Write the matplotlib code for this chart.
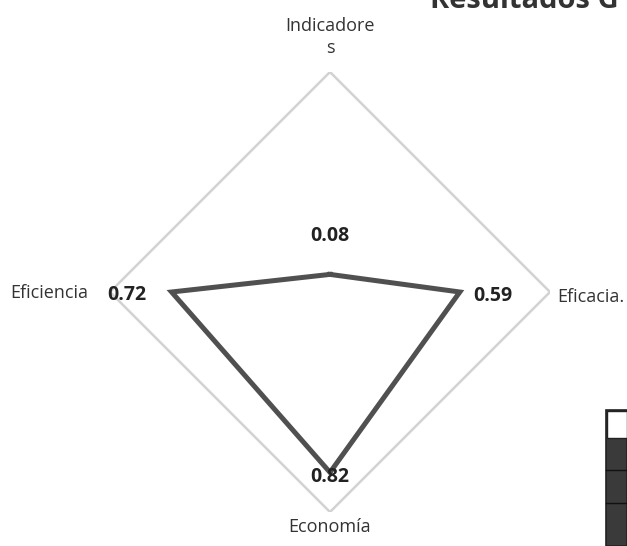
import numpy as np
import matplotlib
matplotlib.use("Agg")
import matplotlib.pyplot as plt
from matplotlib.patches import Rectangle

categories = ["Indicadore\ns", "Eficacia.", "Economía", "Eficiencia"]
values = [0.08, 0.59, 0.82, 0.72]
value_labels = ["0.08", "0.59", "0.82", "0.72"]
rmax = 1.0

plt.rcParams['font.family'] = ['Open Sans', 'DejaVu Sans']

fig = plt.figure(figsize=(6.27, 5.46), dpi=100)
fig.patch.set_facecolor("white")

cx, cy, R = 330, 292, 220
W, H = 627, 546
ax = fig.add_axes([(cx - R) / W, (H - cy - R) / H, 2 * R / W, 2 * R / H], projection="polar")
ax.set_theta_offset(np.pi / 2)
ax.set_theta_direction(-1)
ax.set_ylim(0, rmax)
ax.grid(False)
ax.spines["polar"].set_visible(False)
ax.set_xticks([])
ax.set_yticks([])
ax.patch.set_alpha(0)

n = len(categories)
theta = np.arange(n) * 2 * np.pi / n
tc = np.append(theta, theta[0])

# outer ring
ax.plot(tc, [rmax] * (n + 1), color="#d2d2d2", lw=1.8, zorder=2)

vc = np.append(values, values[0])
ax.plot(tc, vc, color="#505050", lw=3.6, zorder=3, solid_joinstyle="miter")

# data labels
offsets = [(0, 28), (24, -3), (0, -3), (-32, -2)]
for t, v, lab, off in zip(theta, values, value_labels, offsets):
    ax.annotate(lab, xy=(t, v), xytext=off, textcoords="offset points",
                ha="center", va="center", fontsize=14, fontweight="bold", color="#222222")

# category labels
fs = 13
fig.text(330 / W, 1 - 37 / H, categories[0], ha="center", va="center", fontsize=fs,
         color="#333333", linespacing=1.3)
fig.text(557 / W, 1 - 297 / H, categories[1], ha="left", va="center", fontsize=fs, color="#333333")
fig.text(330 / W, 1 - 527 / H, categories[2], ha="center", va="center", fontsize=fs, color="#333333")
fig.text(10 / W, 1 - 293 / H, categories[3], ha="left", va="center", fontsize=fs, color="#333333")

# cut-off title at top
fig.text(430 / W, 1 - 8 / H, "Resultados G", ha="left", va="baseline", fontsize=21,
         fontweight="bold", color="#333333")

# partial table at bottom-right
fig.patches.append(Rectangle((606 / W, 0), 1 - 606 / W, (H - 410) / H, transform=fig.transFigure,
                             facecolor="#3a3a3a", edgecolor="#222222", lw=1.2))
fig.patches.append(Rectangle((607 / W, (H - 438) / H), 1 - 607 / W, 27 / H, transform=fig.transFigure,
                             facecolor="white", edgecolor="#222222", lw=1.0))
for yy in [470, 503]:
    fig.add_artist(plt.Line2D([606 / W, 1], [(H - yy) / H] * 2, transform=fig.transFigure,
                              color="#111111", lw=1.0))

fig.savefig("out.png", dpi=100, facecolor="white")
